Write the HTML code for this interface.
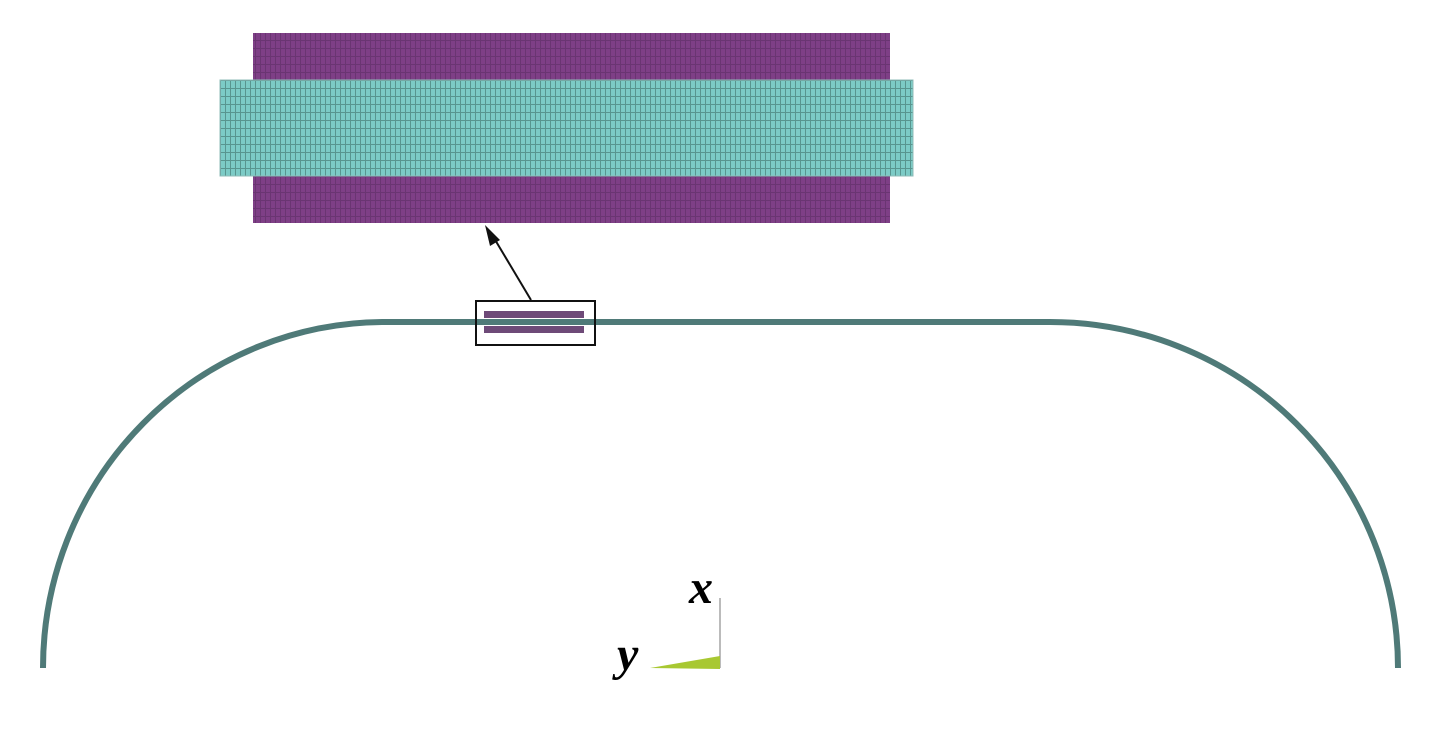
<!DOCTYPE html>
<html><head><style>html,body{margin:0;padding:0;background:#fff}</style></head>
<body>
<svg width="1431" height="741" xmlns="http://www.w3.org/2000/svg">
<defs>
<pattern id="pg" width="5" height="8" patternUnits="userSpaceOnUse">
<rect width="5" height="8" fill="#7e3f86"/>
<path d="M0 0.5H5M0.5 0V8" stroke="#6a3572" stroke-width="1"/>
</pattern>
<pattern id="cg" width="5" height="8" patternUnits="userSpaceOnUse">
<rect width="5" height="8" fill="#7ccbc6"/>
<path d="M0 0.5H5M0.5 0V8" stroke="#58958f" stroke-width="1"/>
</pattern>
</defs>
<rect x="253" y="33" width="637" height="190" fill="url(#pg)"/>
<rect x="220" y="80" width="693" height="96" fill="url(#cg)" stroke="#8fbcb8" stroke-width="1"/>
<path d="M43 668 A342 346 0 0 1 385 322 L1050 322 A348 346 0 0 1 1398 668" fill="none" stroke="#4f7a78" stroke-width="6"/>
<rect x="484" y="311" width="100" height="7" fill="#6e4a78"/>
<rect x="484" y="326" width="100" height="7" fill="#6e4a78"/>
<rect x="476" y="301" width="119" height="44" fill="none" stroke="#111" stroke-width="2"/>
<line x1="531" y1="300" x2="494" y2="238" stroke="#111" stroke-width="2"/>
<polygon points="485,225 500,240 490,246" fill="#111"/>
<line x1="720" y1="598" x2="720" y2="668" stroke="#bbb" stroke-width="2"/>
<polygon points="650,668 720,656 720,669" fill="#a8c832"/>
<text x="689" y="603" font-family="Liberation Serif, serif" font-style="italic" font-weight="bold" font-size="48">x</text>
<text x="617" y="670" font-family="Liberation Serif, serif" font-style="italic" font-weight="bold" font-size="48">y</text>
</svg>
</body></html>
